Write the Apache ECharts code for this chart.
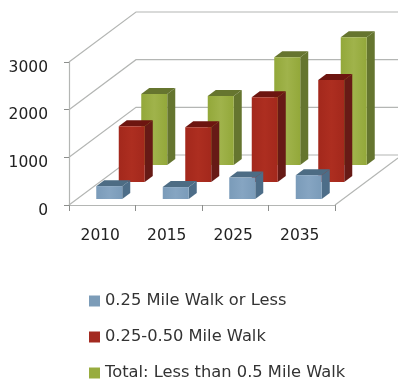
<!DOCTYPE html>
<html>
<head>
<meta charset="utf-8">
<style>html,body{margin:0;padding:0;background:#fff}#chart{width:398px;height:385px}</style>
<script src="https://cdn.jsdelivr.net/npm/echarts@6/dist/echarts.min.js"></script>
</head>
<body>
<div id="chart"></div>
<script>
// Walking-distance figures by forecast year
const years = ['2010', '2015', '2025', '2035'];
const quarterMile = [270, 250, 450, 500];
const halfMileBand = [1170, 1150, 1780, 2140];
const totalHalfMile = [1490, 1450, 2260, 2680];
const valueTicks = [0, 1000, 2000, 3000];

// Oblique projection used for the pseudo-3D box
const WALL_DX = 67, WALL_DY = 50;
const SLOT_DX = 22.5, SLOT_DY = 17, FIRST_DX = 7, FIRST_DY = 6;
const BAR_W = 26, BAR_DX = 8, BAR_DY = 6;
const GRID_LINE = '#b4b6b4';

function columnRenderer(slot, front, top, side, light) {
  return function (params, api) {
    const base = api.coord([api.value(0), 0]);
    const head = api.coord([api.value(0), api.value(1)]);
    const l = base[0] - BAR_W / 2 + FIRST_DX + SLOT_DX * slot;
    const r = l + BAR_W;
    const shift = FIRST_DY + SLOT_DY * slot;
    const b = base[1] - shift;
    const t = head[1] - shift;
    const poly = (points, fill) => ({ type: 'polygon', shape: { points }, style: { fill } });
    return {
      type: 'group',
      children: [
        poly([[r, b], [r + BAR_DX, b - BAR_DY], [r + BAR_DX, t - BAR_DY], [r, t]], side),
        poly([[l, t], [l + BAR_DX, t - BAR_DY], [r + BAR_DX, t - BAR_DY], [r, t]], top),
        poly([[l, b], [r, b], [r, t], [l, t]], {
          type: 'linear', x: 0, y: 0, x2: 1, y2: 0,
          colorStops: [{ offset: 0, color: front }, { offset: 0.5, color: light }, { offset: 1, color: front }]
        })
      ]
    };
  };
}

function wallRenderer(params, api) {
  const left = api.coord([0, api.value(0)]);
  const x0 = params.coordSys.x;
  const lineStyle = { stroke: GRID_LINE, lineWidth: 1.2, fill: null };
  const points = [[x0, left[1]], [x0 + WALL_DX, left[1] - WALL_DY], [398, left[1] - WALL_DY]];
  const children = [{ type: 'polyline', shape: { points }, style: lineStyle }];
  if (api.value(0) === 0) {
    const xr = x0 + params.coordSys.width;
    children.push({
      type: 'line',
      shape: { x1: xr, y1: left[1], x2: xr + WALL_DX - 4, y2: left[1] - WALL_DY + 3 },
      style: lineStyle
    });
  }
  return { type: 'group', children };
}

const pairs = values => values.map((v, i) => [i, v]);

const chart = echarts.init(document.getElementById('chart'));
chart.setOption({
  animation: false,
  backgroundColor: '#fff',
  textStyle: { fontFamily: 'DejaVu Sans' },
  grid: { left: 69, right: 63, top: 62, bottom: 180 },
  xAxis: {
    type: 'category',
    data: years,
    boundaryGap: true,
    axisLine: { lineStyle: { color: GRID_LINE, width: 1.2 } },
    axisTick: { show: true, alignWithLabel: false, length: 6, lineStyle: { color: '#8c8e8c' } },
    axisLabel: { color: '#222', fontSize: 15.5, margin: 23, padding: [0, 4, 0, 0] }
  },
  yAxis: {
    type: 'value',
    min: 0,
    max: 3000,
    interval: 1000,
    axisLine: { show: true, lineStyle: { color: GRID_LINE, width: 1.2 } },
    axisTick: { show: true, length: 5, lineStyle: { color: '#8c8e8c' } },
    axisLabel: { color: '#222', fontSize: 15.5, margin: 21, verticalAlign: 'top', lineHeight: 11, formatter: v => String(v) },
    splitLine: { show: false }
  },
  legend: {
    orient: 'vertical',
    left: 84,
    top: 288,
    width: 310,
    height: 97,
    itemWidth: 11,
    itemHeight: 11,
    itemGap: 20,
    icon: 'rect',
    textStyle: { color: '#333', fontSize: 16.3, lineHeight: 16 },
    data: ['0.25 Mile Walk or Less', '0.25-0.50 Mile Walk', 'Total: Less than 0.5 Mile Walk']
  },
  series: [
    {
      type: 'custom', name: 'walls', silent: true, clip: false, z: 1,
      coordinateSystem: 'cartesian2d',
      encode: { y: 0 },
      data: valueTicks.map(v => [v]),
      renderItem: wallRenderer
    },
    {
      type: 'custom', name: 'Total: Less than 0.5 Mile Walk', clip: false, z: 2,
      itemStyle: { color: '#98ac3f' },
      encode: { x: 0, y: 1 },
      data: pairs(totalHalfMile),
      renderItem: columnRenderer(2, '#93a83a', '#66752f', '#65752f', '#a0b34b')
    },
    {
      type: 'custom', name: '0.25-0.50 Mile Walk', clip: false, z: 3,
      itemStyle: { color: '#a32a20' },
      encode: { x: 0, y: 1 },
      data: pairs(halfMileBand),
      renderItem: columnRenderer(1, '#a3281c', '#6d1510', '#671a16', '#ad2e20')
    },
    {
      type: 'custom', name: '0.25 Mile Walk or Less', clip: false, z: 4,
      itemStyle: { color: '#7c9cb8' },
      encode: { x: 0, y: 1 },
      data: pairs(quarterMile),
      renderItem: columnRenderer(0, '#7a9bb9', '#4d6c84', '#4d6d88', '#86a5c2')
    }
  ]
});
</script>
</body>
</html>
